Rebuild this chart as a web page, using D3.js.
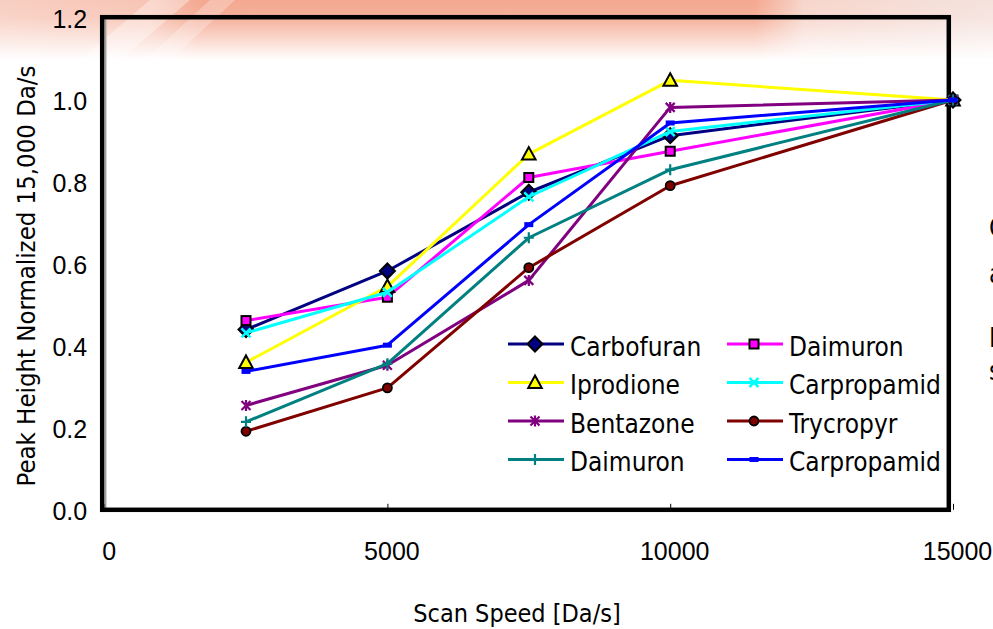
<!DOCTYPE html>
<html>
<head>
<meta charset="utf-8">
<script src="https://cdn.jsdelivr.net/npm/d3@7"></script>
<style>
  html, body { margin: 0; padding: 0; background: #fff; }
  svg { display: block; font-family: "DejaVu Sans Condensed", "DejaVu Sans", Verdana, sans-serif; font-stretch: condensed; }
</style>
</head>
<body>
<svg id="chart" width="993" height="629"></svg>
<script>
// Peak height (normalized to 15,000 Da/s) against scan speed
const scanSpeeds   = [2500, 5000, 7500, 10000, 15000];
const seriesNames  = ["Carbofuran", "Daimuron", "Iprodione", "Carpropamid",
                      "Bentazone", "Trycropyr", "Daimuron", "Carpropamid"];
const carbofuran   = [0.440, 0.583, 0.775, 0.913, 1.0];
const daimuronA    = [0.462, 0.519, 0.811, 0.875, 1.0];
const iprodione    = [0.360, 0.545, 0.868, 1.048, 1.0];
const carpropamidA = [0.432, 0.531, 0.764, 0.923, 1.0];
const bentazone    = [0.255, 0.353, 0.560, 0.982, 1.0];
const trycropyr    = [0.192, 0.298, 0.591, 0.791, 1.0];
const daimuronB    = [0.215, 0.357, 0.664, 0.830, 1.0];
const carpropamidB = [0.338, 0.402, 0.696, 0.944, 1.0];
const xTicks = [0, 5000, 10000, 15000];
const yTicks = [0, 0.2, 0.4, 0.6, 0.8, 1.0, 1.2];

const seriesValues = [carbofuran, daimuronA, iprodione, carpropamidA,
                      bentazone, trycropyr, daimuronB, carpropamidB];
const seriesStyle = [
  { color: "#000080", marker: "diamond" },
  { color: "#ff00ff", marker: "square" },
  { color: "#ffff00", marker: "triangle" },
  { color: "#00ffff", marker: "cross" },
  { color: "#800080", marker: "star" },
  { color: "#800000", marker: "circle" },
  { color: "#008080", marker: "plus" },
  { color: "#0000ff", marker: "dash" }
];
const series = seriesNames.map((name, i) => ({
  name, ...seriesStyle[i],
  points: scanSpeeds.map((s, j) => ({ x: s, y: seriesValues[i][j] }))
}));

const svg = d3.select("#chart");
const defs = svg.append("defs");

// ---- header band behind the chart ----
const band = defs.append("linearGradient").attr("id", "bandColor")
  .attr("x1", 0).attr("x2", 1).attr("y1", 0).attr("y2", 0);
[[0, "#f8cfc2"], [0.15, "#f7c4b4"], [0.2, "#f4a890"], [0.76, "#f4a890"],
 [0.81, "#f7d6cc"], [1, "#f5e2dd"]].forEach(([o, c]) =>
  band.append("stop").attr("offset", o).attr("stop-color", c));
const fade = defs.append("linearGradient").attr("id", "bandFade")
  .attr("x1", 0).attr("x2", 0).attr("y1", 0).attr("y2", 1);
[[0, 1], [0.3, 0.9], [0.65, 0.45], [1, 0]].forEach(([o, a]) =>
  fade.append("stop").attr("offset", o).attr("stop-color", "#fff").attr("stop-opacity", a));
defs.append("mask").attr("id", "bandMask")
  .append("rect").attr("width", 993).attr("height", 60).attr("fill", "url(#bandFade)");
const bandG = svg.append("g").attr("mask", "url(#bandMask)");
bandG.append("rect").attr("width", 993).attr("height", 60).attr("fill", "url(#bandColor)");
bandG.append("path").attr("d", "M150,0 L190,0 L120,60 L80,60 Z").attr("fill", "#fff").attr("opacity", 0.35);
bandG.append("path").attr("d", "M210,0 L235,0 L170,60 L145,60 Z").attr("fill", "#fff").attr("opacity", 0.25);

// ---- scales ----
const x = d3.scaleLinear().domain([0, 15000]).range([104.6, 953]);
const y = d3.scaleLinear().domain([0, 1.2]).range([510, 18]);
const frame = { left: 102.2, right: 948.8, top: 17.2, bottom: 509.8 };

// ---- axes: tick labels and inner ticks ----
const yAxis = svg.append("g").attr("transform", `translate(${frame.left},0)`)
  .call(d3.axisLeft(y).tickValues(yTicks).tickFormat(d3.format(".1f")).tickSize(0).tickPadding(15));
yAxis.select(".domain").remove();
yAxis.selectAll("text").attr("font-size", 25).attr("font-family", null).attr("fill", "#000").attr("dy", "0.38em");

const xAxis = svg.append("g").attr("transform", `translate(0,${frame.bottom})`)
  .call(d3.axisBottom(x).tickValues(xTicks).tickFormat(d3.format("d")).tickSize(-6).tickPadding(32));
xAxis.select(".domain").remove();
xAxis.selectAll("line").attr("stroke", "#000").attr("stroke-width", 1);
xAxis.selectAll("text").attr("font-size", 25).attr("font-family", null).attr("fill", "#000").attr("dx", 4);

// ---- plot frame ----
svg.append("line").attr("x1", frame.left + 3.5).attr("x2", frame.left + 3.5)
  .attr("y1", frame.top + 2).attr("y2", frame.bottom - 2)
  .attr("stroke", "#a0a0a0").attr("stroke-width", 1.5);
svg.append("rect")
  .attr("x", frame.left).attr("y", frame.top)
  .attr("width", frame.right - frame.left).attr("height", frame.bottom - frame.top)
  .attr("fill", "none").attr("stroke", "#000").attr("stroke-width", 4.5);

// ---- marker drawing ----
function drawMarker(g, type, color, cx, cy) {
  const m = g.append("g").attr("transform", `translate(${cx},${cy})`);
  switch (type) {
    case "diamond":
      m.append("path").attr("d", "M0,-7.5 L7.5,0 L0,7.5 L-7.5,0 Z")
        .attr("fill", color).attr("stroke", "#000").attr("stroke-width", 2); break;
    case "square":
      m.append("rect").attr("x", -4.5).attr("y", -4.5).attr("width", 9).attr("height", 9)
        .attr("fill", color).attr("stroke", "#000").attr("stroke-width", 2); break;
    case "triangle":
      m.append("path").attr("d", "M0,-7 L6.8,5.5 L-6.8,5.5 Z")
        .attr("fill", color).attr("stroke", "#000").attr("stroke-width", 2).attr("stroke-linejoin", "miter"); break;
    case "cross":
      m.append("path").attr("d", "M-4.5,-4.5 L4.5,4.5 M-4.5,4.5 L4.5,-4.5")
        .attr("stroke", color).attr("stroke-width", 2.5); break;
    case "star":
      m.append("path").attr("d", "M-4.5,-4.5 L4.5,4.5 M-4.5,4.5 L4.5,-4.5 M0,-5.5 L0,5.5")
        .attr("stroke", color).attr("stroke-width", 2.2); break;
    case "circle":
      m.append("circle").attr("r", 4.5)
        .attr("fill", color).attr("stroke", "#000").attr("stroke-width", 1.8); break;
    case "plus":
      m.append("path").attr("d", "M-5,0 L5,0 M0,-5.5 L0,5.5")
        .attr("stroke", color).attr("stroke-width", 2.2); break;
    case "dash":
      m.append("rect").attr("x", -4.5).attr("y", -2.5).attr("width", 9).attr("height", 5)
        .attr("fill", color); break;
  }
}

// ---- series lines and markers ----
const line = d3.line().x(d => x(d.x)).y(d => y(d.y));
const plot = svg.append("g");
series.forEach(s => {
  const g = plot.append("g");
  g.append("path").datum(s.points).attr("d", line)
    .attr("fill", "none").attr("stroke", s.color).attr("stroke-width", 3)
    .attr("stroke-linejoin", "round");
  s.points.forEach(p => drawMarker(g, s.marker, s.color, x(p.x), y(p.y)));
});

// ---- legend (two columns, filled row by row) ----
const legend = svg.append("g");
const legendCols = [508, 727];
const legendRows = [344, 382.5, 421, 459.5];
series.forEach((s, i) => {
  const lx = legendCols[i % 2], ly = legendRows[Math.floor(i / 2)];
  const g = legend.append("g");
  g.append("line").attr("x1", lx).attr("x2", lx + 56).attr("y1", ly).attr("y2", ly)
    .attr("stroke", s.color).attr("stroke-width", 3);
  drawMarker(g, s.marker, s.color, lx + 27, ly);
  g.append("text").attr("x", lx + 62).attr("y", ly + 11.5)
    .attr("font-size", 26).attr("fill", "#000").text(s.name);
});

// ---- axis titles ----
svg.append("text").attr("x", 517).attr("y", 622).attr("text-anchor", "middle")
  .attr("font-size", 25).attr("fill", "#000").text("Scan Speed [Da/s]");
svg.append("text").attr("transform", "translate(35,276) rotate(-90)").attr("text-anchor", "middle")
  .attr("font-size", 25.5).attr("fill", "#000").text("Peak Height Normalized 15,000 Da/s");

// ---- slide text running off the right edge ----
const sideText = svg.append("g").attr("font-size", 26).attr("fill", "#000");
[["Optimum", 237], ["at", 283], ["Each", 347], ["scan", 380]].forEach(([t, by]) =>
  sideText.append("text").attr("x", 989).attr("y", by).text(t));
</script>
</body>
</html>
